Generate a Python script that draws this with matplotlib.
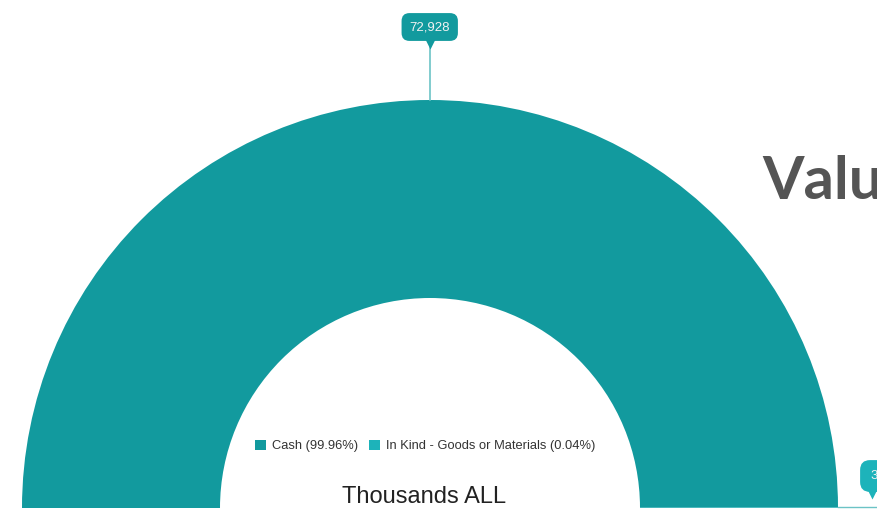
import numpy as np
import matplotlib.pyplot as plt

# donation values, thousands ALL
labels = ["Cash", "In Kind - Goods or Materials"]
values = [72928, 30]
colors = ["#129a9e", "#1db3ba"]


def main():
    W, H = 877, 511
    fig = plt.figure(figsize=(W / 100, H / 100), dpi=100)
    ax = fig.add_axes([0, 0, 1, 1])

    total = sum(values)
    shares = [v / total * 100 for v in values]
    cx, cy = 430, 3
    r_out, r_in = 408, 210

    # half donut: the bottom half is an invisible filler wedge
    ax.pie(values + [total], colors=colors + ["none"], startangle=180,
           counterclock=False, radius=r_out, center=(cx, cy),
           wedgeprops=dict(width=r_out - r_in, linewidth=0))
    ax.set_xlim(0, W)
    ax.set_ylim(0, H)
    ax.set_aspect("equal")
    ax.axis("off")

    # callout for Cash, placed above the middle of its slice
    mid = np.radians(180 - 180 * values[0] / total / 2)
    px, py = cx + r_out * np.cos(mid), cy + r_out * np.sin(mid)
    ax.plot([px, px], [py, H - 46], color="#6cc3c6", lw=1.2)
    ax.plot(px, H - 44, marker="v", ms=7, color=colors[0], mec="none")
    ax.text(px, H - 27, f"{values[0]:,}", ha="center", va="center",
            color="#f2f2f2", fontsize=9.5, family="Liberation Sans",
            bbox=dict(boxstyle="round,pad=0.6", fc=colors[0], ec="none"))

    # callout for In Kind, at the right end of the arc
    ax.plot([cx + r_out, W], [cy + 1, cy + 1], color="#6cc3c6", lw=1)
    ax.plot(872, H - 494, marker="v", ms=7, color=colors[1], mec="none")
    ax.text(870, H - 476, f"{values[1]:,}", ha="left", va="center",
            color="#f2f2f2", fontsize=9.5, family="Liberation Sans",
            bbox=dict(boxstyle="round,pad=0.75", fc=colors[1], ec="none"))

    # legend inside the hole
    handles = [plt.Rectangle((0, 0), 1, 1, fc=c, ec="none") for c in colors]
    names = [f"{n} ({s:.2f}%)" for n, s in zip(labels, shares)]
    ax.legend(handles, names, loc="center", bbox_to_anchor=(425 / W, 1 - 446 / H),
              ncol=2, frameon=False, handlelength=0.9, handleheight=0.9,
              handletextpad=0.45, columnspacing=0.8,
              prop=dict(family="Liberation Sans", size=9.3), labelcolor="#333333")

    ax.text(424, H - 497, "Thousands ALL", ha="center", va="center",
            fontsize=17, family="Liberation Sans", color="#222222")

    ax.text(762, H - 182, "Value of Donations", ha="left", va="center",
            fontsize=43, fontweight="bold", family="Lato", color="#555555")

    fig.savefig("out.png", dpi=100)


if __name__ == "__main__": main()
